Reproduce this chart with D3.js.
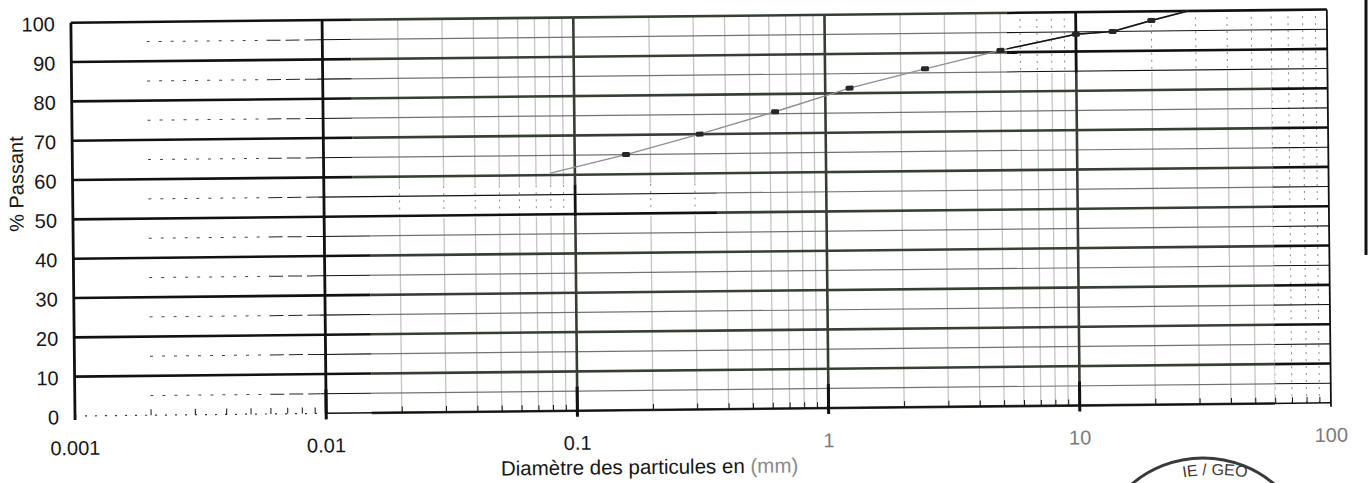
<!DOCTYPE html>
<html>
<head>
<meta charset="utf-8">
<script src="https://cdn.jsdelivr.net/npm/d3@7"></script>
<style>
  body { margin: 0; background: #fff; }
  svg { display: block; }
  text { font-family: "Liberation Sans", Arial, Helvetica, sans-serif; }
</style>
</head>
<body>
<div id="chart"></div>
<script>
// grain size curve
var sizes   = [0.08, 0.16, 0.315, 0.63, 1.25, 2.5, 5, 10, 14, 20, 28];
var passing = [60.5, 65, 70, 75.5, 81.3, 86, 90.5, 94.4, 95, 97.7, 100];

var xTickValues = [0.001, 0.01, 0.1, 1, 10, 100];
var xTickLabels = ["0.001", "0.01", "0.1", "1", "10", "100"];
var yTickValues = [0, 10, 20, 30, 40, 50, 60, 70, 80, 90, 100];
var yMinorValues = [5, 15, 25, 35, 45, 55, 65, 75, 85, 95];

var yTitle = "% Passant";
var xTitle = "Diamètre des particules en ";
var xTitleUnit = "(mm)";
var stampText = "IE / GEO";

var width = 1368, height = 483;

var x = d3.scaleLog().domain([0.001, 100]).range([75, 1331]);
var y = d3.scaleLinear().domain([0, 100]).range([416, 22.7]);

// minor sieve positions 2..9 in each decade
var minorAll = [];
[0.001, 0.01, 0.1, 1, 10].forEach(function(d) {
  for (var k = 2; k <= 9; k++) minorAll.push(d * k);
});
var minorGrid = minorAll.filter(function(v) { return v > 0.01; });

// parts of the scan where the grid came out black instead of grey
var blackZones = [
  {x0: 0.001, x1: 0.0128, y0: 56, y1: 100.6},
  {x0: 0.001, x1: 0.0149, y0: -1, y1: 56},
  {x0: 0.001, x1: 0.36, y0: 49.4, y1: 57.6},
  {x0: 5.4, x1: 100, y0: 84.6, y1: 100.6},
  {x0: 61, x1: 100, y0: -1, y1: 85}
];

var svg = d3.select("#chart").append("svg")
    .attr("width", width)
    .attr("height", height);

var defs = svg.append("defs");
var clip = defs.append("clipPath").attr("id", "blackclip");
clip.selectAll("rect")
    .data(blackZones)
  .enter().append("rect")
    .attr("x", function(d) { return x(d.x0) - 2; })
    .attr("width", function(d) { return x(d.x1) - x(d.x0) + 4; })
    .attr("y", function(d) { return y(d.y1); })
    .attr("height", function(d) { return y(d.y0) - y(d.y1); });

// the page was scanned slightly tilted
var g = svg.append("g")
    .attr("transform", "rotate(-0.6,75,416)");

function vlines(sel, vals, color, w, dash) {
  sel.selectAll(null)
      .data(vals)
    .enter().append("line")
      .attr("x1", function(d) { return x(d); })
      .attr("x2", function(d) { return x(d); })
      .attr("y1", y(0))
      .attr("y2", y(100))
      .attr("stroke", color)
      .attr("stroke-width", w)
      .attr("stroke-dasharray", dash || null);
}

function hlines(sel, vals, color, w, from, to, dash) {
  sel.selectAll(null)
      .data(vals)
    .enter().append("line")
      .attr("x1", x(from))
      .attr("x2", x(to))
      .attr("y1", function(d) { return y(d); })
      .attr("y2", function(d) { return y(d); })
      .attr("stroke", color)
      .attr("stroke-width", w)
      .attr("stroke-dasharray", dash || null);
}

// grey grid (printed part)
var grey = g.append("g");
vlines(grey, minorGrid, "#c4c4c4", 1.3);
hlines(grey, yMinorValues, "#727272", 1.2, 0.001, 100);
vlines(grey, [0.1, 1, 10], "#363d33", 2.6);
hlines(grey, yTickValues, "#373e34", 2.6, 0.001, 100);

// black grid zones
g.append("g").selectAll("rect")
    .data(blackZones)
  .enter().append("rect")
    .attr("x", function(d) { return x(d.x0) - 2; })
    .attr("width", function(d) { return x(d.x1) - x(d.x0) + 4; })
    .attr("y", function(d) { return y(d.y1); })
    .attr("height", function(d) { return y(d.y0) - y(d.y1); })
    .attr("fill", "#fff");

var black = g.append("g").attr("clip-path", "url(#blackclip)");
vlines(black, minorGrid, "#8a8a8a", 1, "2,5");
hlines(black, yMinorValues, "#444", 1, 0.002, 0.006, "3,9");
hlines(black, yMinorValues, "#222", 1, 0.006, 0.0095, "14,5");
hlines(black, yMinorValues, "#111", 1.1, 0.0095, 100);
hlines(black, yTickValues.filter(function(v) { return v > 0; }), "#111", 2.6, 0.001, 100);
vlines(black, [0.01, 0.1, 10], "#111", 2.8);

// axes frame
g.append("line")
    .attr("x1", x(0.001)).attr("x2", x(0.001))
    .attr("y1", y(0) + 4).attr("y2", y(100))
    .attr("stroke", "#111").attr("stroke-width", 2.8);
g.append("line")
    .attr("x1", x(100)).attr("x2", x(100))
    .attr("y1", y(0) + 4).attr("y2", y(100))
    .attr("stroke", "#111").attr("stroke-width", 1.8);
g.append("line")
    .attr("x1", x(0.001)).attr("x2", x(0.01))
    .attr("y1", y(0)).attr("y2", y(0))
    .attr("stroke", "#333").attr("stroke-width", 1.2)
    .attr("stroke-dasharray", "2,8");
g.append("line")
    .attr("x1", x(0.01)).attr("x2", x(100))
    .attr("y1", y(0)).attr("y2", y(0))
    .attr("stroke", "#111").attr("stroke-width", 1.5);

var xAxis = d3.axisBottom(x)
    .tickValues(minorAll)
    .tickSize(-6)
    .tickFormat("");
var ax = g.append("g")
    .attr("transform", "translate(0," + y(0) + ")")
    .call(xAxis);
ax.select(".domain").remove();
ax.selectAll(".tick line").attr("stroke", "#111").attr("stroke-width", 1);

g.selectAll(null)
    .data(xTickValues.slice(1, 5))
  .enter().append("line")
    .attr("x1", function(d) { return x(d); })
    .attr("x2", function(d) { return x(d); })
    .attr("y1", y(0) - 24)
    .attr("y2", y(0) + 6)
    .attr("stroke", "#111")
    .attr("stroke-width", 3);

// curve
var line = d3.line()
    .x(function(d, i) { return x(sizes[i]); })
    .y(function(d) { return y(d); });

g.append("path")
    .datum(passing)
    .attr("fill", "none")
    .attr("stroke", "#8e8e8e")
    .attr("stroke-width", 1.4)
    .attr("d", line);

g.append("path")
    .datum(passing)
    .attr("clip-path", "url(#blackclip)")
    .attr("fill", "none")
    .attr("stroke", "#111")
    .attr("stroke-width", 1.4)
    .attr("d", line);

g.selectAll(".mark")
    .data(passing.slice(1, passing.length - 1))
  .enter().append("rect")
    .attr("class", "mark")
    .attr("x", function(d, i) { return x(sizes[i + 1]) - 4; })
    .attr("y", function(d) { return y(d) - 2.5; })
    .attr("width", 8)
    .attr("height", 5)
    .attr("rx", 1.5)
    .attr("fill", "#262626");

// labels
g.selectAll(".ylab")
    .data(yTickValues)
  .enter().append("text")
    .attr("class", "ylab")
    .attr("x", 59)
    .attr("y", function(d) { return y(d) + 1; })
    .attr("dy", "0.36em")
    .attr("text-anchor", "end")
    .attr("font-size", 20)
    .attr("fill", "#151515")
    .text(function(d) { return d; });

g.selectAll(".xlab")
    .data(xTickValues)
  .enter().append("text")
    .attr("class", "xlab")
    .attr("x", function(d) { return x(d); })
    .attr("y", 455)
    .attr("text-anchor", "middle")
    .attr("font-size", 20)
    .attr("fill", function(d) { return d >= 1 ? "#7a7a7a" : "#151515"; })
    .text(function(d, i) { return xTickLabels[i]; });

var xt = g.append("text")
    .attr("x", 649)
    .attr("y", 480)
    .attr("text-anchor", "middle")
    .attr("font-size", 20.5)
    .attr("fill", "#151515");
xt.append("tspan").text(xTitle);
xt.append("tspan").attr("fill", "#8a8a8a").text(xTitleUnit);

g.append("text")
    .attr("transform", "translate(18.5,183.5) rotate(-90)")
    .attr("dy", "0.36em")
    .attr("text-anchor", "middle")
    .attr("font-size", 20)
    .attr("fill", "#151515")
    .text(yTitle);

// edge of the scanned sheet
svg.append("line")
    .attr("x1", 1366).attr("x2", 1366)
    .attr("y1", 0).attr("y2", 255)
    .attr("stroke", "#111").attr("stroke-width", 3);

// stamp in the corner
var cx = 1203, cy = 568, r = 110;
svg.append("circle")
    .attr("cx", cx).attr("cy", cy).attr("r", r)
    .attr("fill", "none").attr("stroke", "#3a3a3a").attr("stroke-width", 3);
var tr = 200, ty = 475;
defs.append("path")
    .attr("id", "stamparc")
    .attr("d", "M" + (cx + 12 - tr) + "," + (ty + tr) + " A" + tr + "," + tr + " 0 0 1 " + (cx + 12 + tr) + "," + (ty + tr));
svg.append("text")
    .attr("font-size", 16)
    .attr("fill", "#3a3a3a")
    .append("textPath")
    .attr("href", "#stamparc")
    .attr("startOffset", "50%")
    .attr("text-anchor", "middle")
    .text(stampText);
</script>
</body>
</html>
